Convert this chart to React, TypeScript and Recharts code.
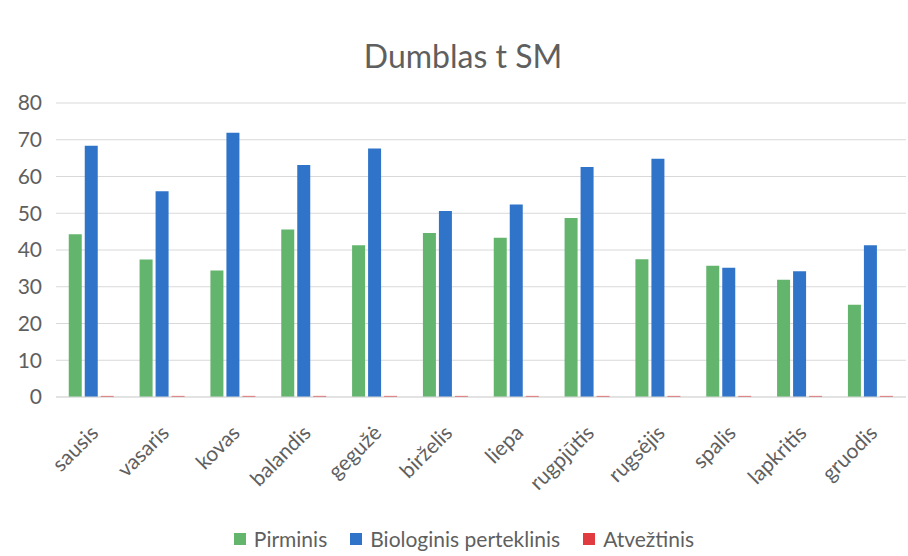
import React from "react";
import { BarChart, Bar, XAxis, YAxis, CartesianGrid, Legend } from "recharts";

const months = [
  "sausis",
  "vasaris",
  "kovas",
  "balandis",
  "gegužė",
  "birželis",
  "liepa",
  "rugpjūtis",
  "rugsėjis",
  "spalis",
  "lapkritis",
  "gruodis",
];
const pirminis = [44.3, 37.4, 34.4, 45.6, 41.3, 44.6, 43.3, 48.7, 37.5, 35.7, 31.9, 25.1];
const biologinis = [68.4, 56.0, 71.9, 63.1, 67.6, 50.6, 52.4, 62.6, 64.8, 35.2, 34.2, 41.3];
const atveztinis = [0.3, 0.3, 0.3, 0.3, 0.3, 0.3, 0.3, 0.3, 0.3, 0.3, 0.3, 0.3];
const yTicks = [0, 10, 20, 30, 40, 50, 60, 70, 80];

const series = [
  { key: "Pirminis", color: "#63b46c" },
  { key: "Biologinis perteklinis", color: "#2f74c8" },
  { key: "Atvežtinis", color: "#e23b3f" },
];

const data = months.map((m, i) => ({
  month: m,
  Pirminis: pirminis[i],
  "Biologinis perteklinis": biologinis[i],
  "Atvežtinis": atveztinis[i],
}));

const FONT = "Lato, 'Open Sans', sans-serif";
const TEXT = "#5f5f5f";

function MonthTick(props: any) {
  const { x, y, payload } = props;
  return (
    <text
      transform={`translate(${x + 3},${y + 24}) rotate(-45)`}
      textAnchor="end"
      dy="0.35em"
      fontSize={21}
      fontFamily={FONT}
      fill={TEXT}
    >
      {payload.value}
    </text>
  );
}

function LegendContent() {
  return (
    <div
      style={{
        display: "flex",
        justifyContent: "center",
        alignItems: "center",
        gap: 23,
        fontSize: 21,
        fontFamily: FONT,
        color: TEXT,
        paddingLeft: 22,
      }}
    >
      {series.map((s) => (
        <div key={s.key} style={{ display: "flex", alignItems: "center", gap: 8 }}>
          <span style={{ width: 12, height: 12, background: s.color, display: "inline-block" }} />
          <span>{s.key}</span>
        </div>
      ))}
    </div>
  );
}

export default function App() {
  return (
    <div
      style={{
        position: "absolute",
        left: 0,
        top: 0,
        width: 908,
        height: 556,
        background: "#fff",
        fontFamily: FONT,
      }}
    >
      <div
        style={{
          position: "absolute",
          left: 0,
          top: 36,
          width: 926,
          textAlign: "center",
          fontSize: 32,
          color: TEXT,
          fontFamily: FONT,
        }}
      >
        Dumblas t SM
      </div>
      <BarChart
        width={908}
        height={556}
        data={data}
        margin={{ top: 103, right: 2, left: 0, bottom: 0 }}
        barCategoryGap="18%"
        barGap={3}
      >
        <CartesianGrid vertical={false} stroke="#d9d9d9" />
        <XAxis
          dataKey="month"
          tick={<MonthTick />}
          tickLine={false}
          axisLine={{ stroke: "#d9d9d9" }}
          interval={0}
          height={129}
        />
        <YAxis
          domain={[0, 80]}
          ticks={yTicks}
          tick={{ fontSize: 21, fill: TEXT, fontFamily: FONT }}
          tickLine={false}
          axisLine={false}
          tickMargin={8}
          width={56}
        />
        <Legend verticalAlign="bottom" wrapperStyle={{ height: 30 }} content={<LegendContent />} />
        {series.map((s) => (
          <Bar key={s.key} dataKey={s.key} fill={s.color} isAnimationActive={false} />
        ))}
      </BarChart>
    </div>
  );
}
